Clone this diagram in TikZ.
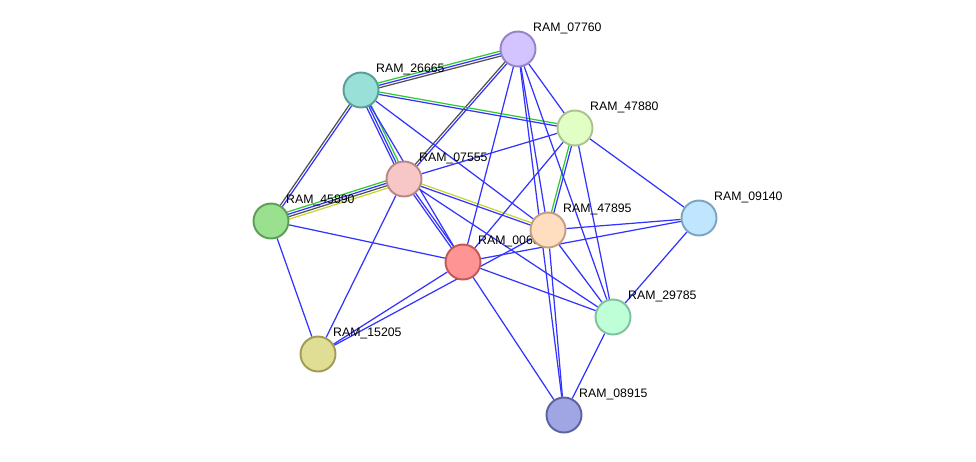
\documentclass[tikz,border=0pt]{standalone}
\usepackage{fontspec}
\setmainfont{Liberation Sans}
\usetikzlibrary{calc,backgrounds}
\definecolor{eb}{RGB}{51,51,255}
\definecolor{eg}{RGB}{80,80,80}
\definecolor{egr}{RGB}{50,200,50}
\definecolor{ey}{RGB}{200,212,50}
\tikzset{
 prot/.style={circle,minimum size=0.7cm,inner sep=0pt,line width=1.1pt,
   label={[font=\fontsize{7}{8}\selectfont,anchor=south west,inner sep=1pt]45:#1}},
 ed/.style={line width=0.7pt},
}
\newcommand{\pe}[4]{\draw[ed,#4] ($(#1)!#3!90:(#2)$) -- ($(#2)!#3!-90:(#1)$);}
\begin{document}
\begin{tikzpicture}[x=0.02cm,y=-0.02cm]
\useasboundingbox (0,0) rectangle (976,461);
\node[prot=RAM\_07760,fill={rgb,255:red,211;green,196;blue,255},draw={rgb,255:red,150;green,130;blue,200}] (n07760) at (518,49) {};
\node[prot=RAM\_26665,fill={rgb,255:red,153;green,224;blue,216},draw={rgb,255:red,90;green,158;blue,152}] (n26665) at (361,90) {};
\node[prot=RAM\_47880,fill={rgb,255:red,225;green,255;blue,196},draw={rgb,255:red,168;green,196;blue,140}] (n47880) at (575,128) {};
\node[prot=RAM\_07555,fill={rgb,255:red,247;green,198;blue,198},draw={rgb,255:red,184;green,136;blue,136}] (n07555) at (404,179) {};
\node[prot=RAM\_45890,fill={rgb,255:red,153;green,224;blue,143},draw={rgb,255:red,92;green,158;blue,86}] (n45890) at (271,221) {};
\node[prot=RAM\_00600,fill={rgb,255:red,255;green,148;blue,148},draw={rgb,255:red,192;green,88;blue,88}] (nred) at (463,262) {};
\node[prot=RAM\_47895,fill={rgb,255:red,255;green,221;blue,191},draw={rgb,255:red,192;green,160;blue,128}] (n47895) at (548,230) {};
\node[prot=RAM\_09140,fill={rgb,255:red,192;green,230;blue,255},draw={rgb,255:red,123;green,164;blue,192}] (n09140) at (699,218) {};
\node[prot=RAM\_29785,fill={rgb,255:red,191;green,255;blue,216},draw={rgb,255:red,128;green,192;blue,156}] (n29785) at (613,317) {};
\node[prot=RAM\_15205,fill={rgb,255:red,224;green,221;blue,148},draw={rgb,255:red,160;green,156;blue,88}] (n15205) at (318,354) {};
\node[prot=RAM\_08915,fill={rgb,255:red,160;green,166;blue,227},draw={rgb,255:red,90;green,98;blue,160}] (n08915) at (564,415) {};
\begin{pgfonlayer}{background}
\pe{n07760}{n26665}{1.4pt}{eg}\pe{n07760}{n26665}{0pt}{eb}\pe{n07760}{n26665}{-1.4pt}{egr}
\pe{n07760}{n07555}{0.7pt}{eb}\pe{n07760}{n07555}{-0.7pt}{eg}
\pe{n26665}{n45890}{0.7pt}{eb}\pe{n26665}{n45890}{-0.7pt}{eg}
\pe{n26665}{n07555}{1.4pt}{egr}\pe{n26665}{n07555}{0pt}{eb}\pe{n26665}{n07555}{-1.4pt}{eb}
\pe{n26665}{n47880}{0.7pt}{egr}\pe{n26665}{n47880}{-0.7pt}{eb}
\pe{n07555}{n45890}{2.1pt}{ey}\pe{n07555}{n45890}{0.7pt}{eg}\pe{n07555}{n45890}{-0.7pt}{eb}\pe{n07555}{n45890}{-2.1pt}{egr}
\pe{n07555}{n47895}{0.7pt}{ey}\pe{n07555}{n47895}{-0.7pt}{eb}
\pe{n47880}{n47895}{0.7pt}{eb}\pe{n47880}{n47895}{-0.7pt}{egr}
\pe{n07555}{nred}{0.7pt}{eb}\pe{n07555}{nred}{-0.7pt}{eb}
\foreach \a/\b in {n07760/n47880,n07760/n47895,n07760/n29785,n07760/nred,n07760/n08915,
 n26665/n47895,n26665/nred,n07555/n47880,n07555/n29785,n07555/n15205,
 n47880/nred,n47880/n09140,n47880/n29785,n47895/n09140,n47895/n29785,n47895/n08915,
 n47895/n15205,n45890/nred,n45890/n15205,nred/n15205,nred/n29785,nred/n08915,nred/n09140,
 n09140/n29785,n29785/n08915}
 \draw[ed,eb] (\a) -- (\b);
\end{pgfonlayer}
\end{tikzpicture}
\end{document}
